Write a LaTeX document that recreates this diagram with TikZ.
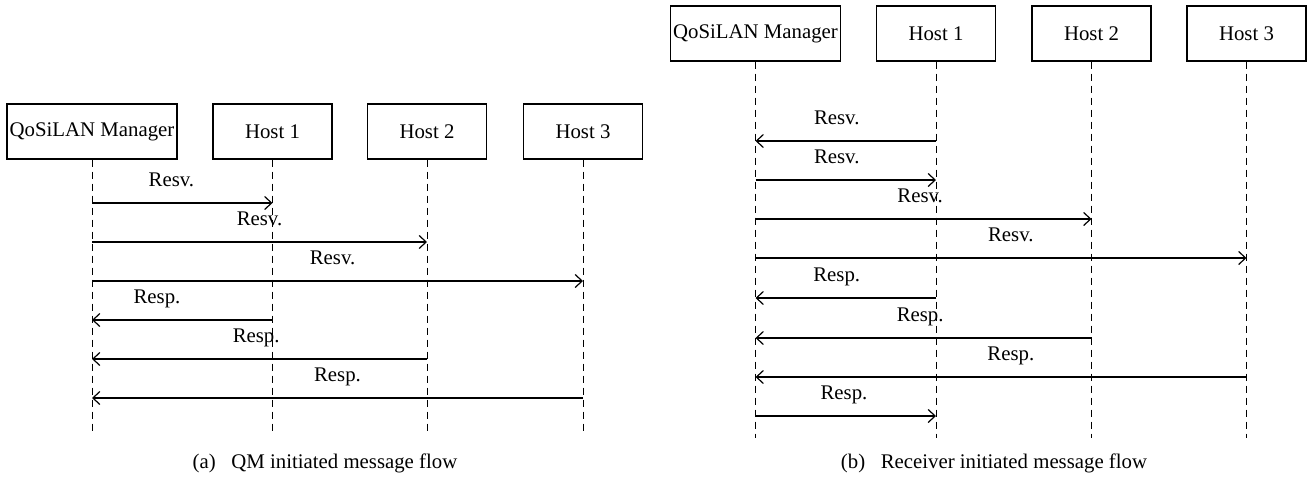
\documentclass[tikz,border=0pt]{standalone}
\usepackage{fontspec}
\setmainfont{Liberation Serif}
\usetikzlibrary{arrows.meta}

\tikzset{
  actor/.style={draw, line width=0.6pt, minimum width=59.5pt, minimum height=27.5pt, inner sep=0pt, font=\fontsize{10.4}{12}\selectfont},
  life/.style={line width=0.5pt, dash pattern=on 3.5pt off 2.5pt},
  msg/.style={line width=0.6pt, -{Straight Barb[length=3.5pt,width=6.5pt]}},
  lbl/.style={above, inner sep=0pt, text depth=0pt, yshift=8pt, font=\fontsize{10.4}{12}\selectfont},
  capt/.style={inner sep=0pt, font=\fontsize{10.4}{12}\selectfont},
}

\begin{document}
\begin{tikzpicture}[x=0.5pt, y=-0.5pt]
\useasboundingbox (0,0) rectangle (1309,477);

% (a) QM initiated message flow
\node[actor, minimum width=85pt] (qmA) at (92,131.5) {QoSiLAN Manager};
\node[actor] (h1A) at (272.5,131.5) {Host 1};
\node[actor] (h2A) at (427,131.5) {Host 2};
\node[actor] (h3A) at (583,131.5) {Host 3};

% Lifelines
\coordinate (qmAend) at (qmA |- 0,435);
\coordinate (h1Aend) at (h1A |- 0,435);
\coordinate (h2Aend) at (h2A |- 0,435);
\coordinate (h3Aend) at (h3A |- 0,435);
\draw[life] (qmA.south) -- (qmAend);
\draw[life] (h1A.south) -- (h1Aend);
\draw[life] (h2A.south) -- (h2Aend);
\draw[life] (h3A.south) -- (h3Aend);

% Messages
\draw[msg] (qmA |- 0,203) -- (h1A |- 0,203) node[lbl, pos=.44] {Resv.};
\draw[msg] (qmA |- 0,242) -- (h2A |- 0,242) node[lbl, pos=.5] {Resv.};
\draw[msg] (qmA |- 0,281) -- (h3A |- 0,281) node[lbl, pos=.49] {Resv.};
\draw[msg] (h1A |- 0,320) -- (qmA |- 0,320) node[lbl, pos=.64] {Resp.};
\draw[msg] (h2A |- 0,359) -- (qmA |- 0,359) node[lbl, pos=.51] {Resp.};
\draw[msg] (h3A |- 0,398) -- (qmA |- 0,398) node[lbl, pos=.5] {Resp.};

\node[capt] (capA) at (325,463) {(a)\hspace{0.75em}QM initiated message flow};

% (b) Receiver initiated message flow
\node[actor, minimum width=85pt] (qmB) at (755.5,33.5) {QoSiLAN Manager};
\node[actor] (h1B) at (936,33.5) {Host 1};
\node[actor] (h2B) at (1091.5,33.5) {Host 2};
\node[actor] (h3B) at (1246.5,33.5) {Host 3};

% Lifelines
\coordinate (qmBend) at (qmB |- 0,438);
\coordinate (h1Bend) at (h1B |- 0,438);
\coordinate (h2Bend) at (h2B |- 0,438);
\coordinate (h3Bend) at (h3B |- 0,438);
\draw[life] (qmB.south) -- (qmBend);
\draw[life] (h1B.south) -- (h1Bend);
\draw[life] (h2B.south) -- (h2Bend);
\draw[life] (h3B.south) -- (h3Bend);

% Messages
\draw[msg] (h1B |- 0,141) -- (qmB |- 0,141) node[lbl, pos=.55] {Resv.};
\draw[msg] (qmB |- 0,180) -- (h1B |- 0,180) node[lbl, pos=.45] {Resv.};
\draw[msg] (qmB |- 0,219) -- (h2B |- 0,219) node[lbl, pos=.49] {Resv.};
\draw[msg] (qmB |- 0,258) -- (h3B |- 0,258) node[lbl, pos=.52] {Resv.};
\draw[msg] (h1B |- 0,298) -- (qmB |- 0,298) node[lbl, pos=.55] {Resp.};
\draw[msg] (h2B |- 0,338) -- (qmB |- 0,338) node[lbl, pos=.51] {Resp.};
\draw[msg] (h3B |- 0,377) -- (qmB |- 0,377) node[lbl, pos=.48] {Resp.};
\draw[msg] (qmB |- 0,416) -- (h1B |- 0,416) node[lbl, pos=.49] {Resp.};

\node[capt] (capB) at (994,463) {(b)\hspace{0.75em}Receiver initiated message flow};
\end{tikzpicture}
\end{document}
